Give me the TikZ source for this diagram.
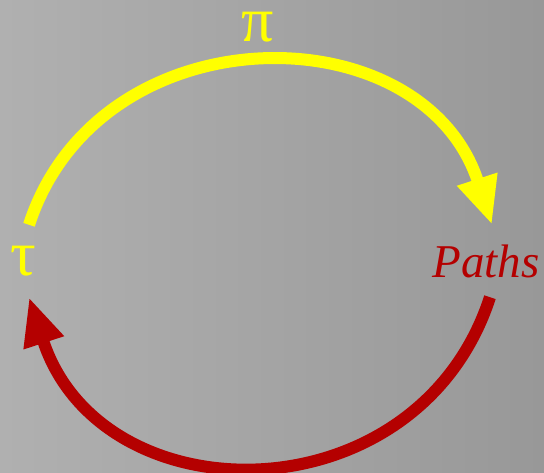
\documentclass[tikz,border=0pt]{standalone}
\usepackage{fontspec}
\setmainfont{Liberation Serif}
\usetikzlibrary{arrows.meta, positioning}
\definecolor{bgleft}{RGB}{176,176,176}
\definecolor{bgright}{RGB}{152,152,152}
\definecolor{pathred}{RGB}{180,0,0}
\definecolor{arcyellow}{RGB}{255,255,0}

\begin{document}
\begin{tikzpicture}[x=1pt, y=1pt,
  arc/.style={line width=12pt, -{Triangle[length=48pt, width=39pt]}},
  lbl/.style={inner sep=0pt, minimum height=72pt, font=\fontsize{47}{56}\selectfont},
  greek/.style={lbl, text=arcyellow, font=\fontsize{64}{70}\selectfont}]
\shade[left color=bgleft, right color=bgright] (0,0) rectangle (544,472);
\useasboundingbox (0,0) rectangle (544,472);
\node[greek] (tau) at (23,211) {τ};
\node[lbl, text=pathred, font=\fontsize{47}{56}\selectfont\itshape] (paths) at (486,211) {Paths};
\node[greek, minimum height=0pt] (pi) at (258,445) {π};
% top arc goes from tau to the paths
\draw[arc, arcyellow] ([xshift=6pt]tau.north) to[bend left=72, looseness=1.25] ([xshift=6pt]paths.north);
% and back again underneath
\draw[arc, pathred] ([xshift=4pt]paths.south) to[bend left=72, looseness=1.3] ([xshift=6pt]tau.south);
\end{tikzpicture}
\end{document}
